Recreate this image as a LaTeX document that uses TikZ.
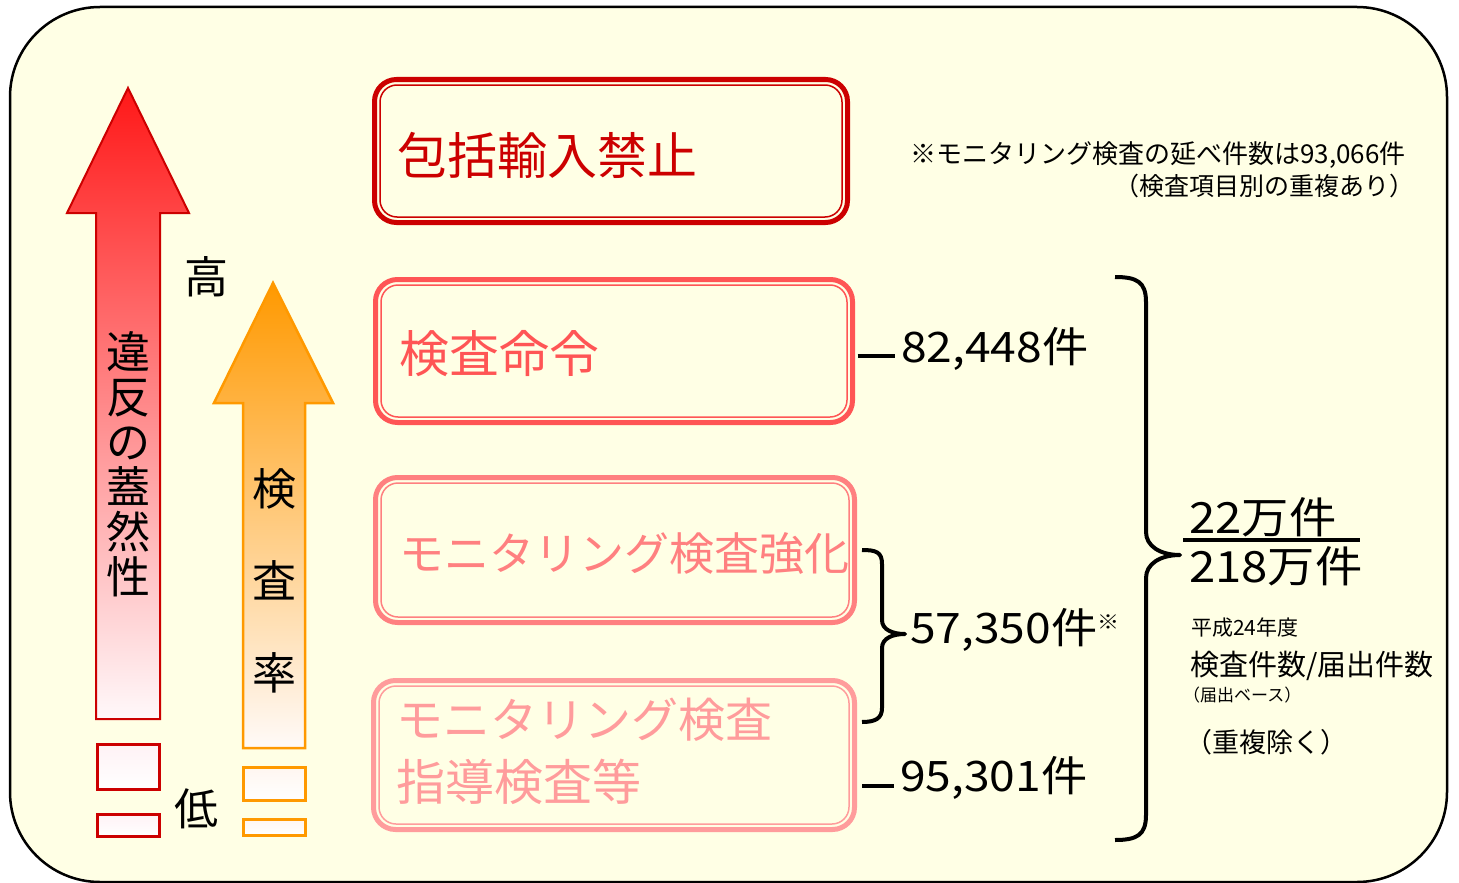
\documentclass[tikz,border=0pt]{standalone}
\usepackage{fontspec}
\setmainfont{Noto Sans CJK JP}
\newfontfamily\numfont[FakeStretch=1.1]{Noto Sans CJK JP}
\definecolor{bg}{RGB}{255,255,229}
\definecolor{cA}{RGB}{204,0,0}
\definecolor{cB}{RGB}{255,85,85}
\definecolor{cC}{RGB}{255,128,128}
\definecolor{cD}{RGB}{255,156,156}
\definecolor{redtop}{RGB}{255,24,24}
\definecolor{redbot}{RGB}{255,248,250}
\definecolor{orng}{RGB}{255,153,0}
\definecolor{orbot}{RGB}{255,250,248}
\definecolor{pinkw}{RGB}{255,242,245}
\definecolor{orw}{RGB}{255,246,240}
\tikzset{
  fs/.style={font=\fontsize{#1}{#1}\selectfont},
  nfs/.style={font=\numfont\fontsize{#1}{#1}\selectfont},
  lbl/.style={inner sep=0pt, anchor=west},
  numlbl/.style={inner sep=0pt, inner xsep=6pt, anchor=west},
  panel/.style={draw=#1, line width=5pt, rounded corners=22pt, inner sep=0pt, outer sep=0pt},
  innerline/.style={draw=#1, line width=1.5pt, rounded corners=17pt},
  conn/.style={line width=4pt, draw=black},
  bracestyle/.style={line width=4pt, draw=black, line join=round},
  redarrow/.style={top color=redtop, bottom color=redbot, draw=cA, line width=2pt},
  orarrow/.style={top color=orng, bottom color=orbot, draw=orng, line width=2.5pt},
  redsq/.style={top color=pinkw, bottom color=white, draw=cA, line width=3pt},
  orsq/.style={top color=orw, bottom color=white, draw=orng, line width=3pt},
}
\begin{document}
\begin{tikzpicture}[x=1pt,y=-1pt]
\useasboundingbox (0,0) rectangle (1459,883);
% background panel
\draw[fill=bg, line width=2.5pt, rounded corners=90pt] (10,7) rectangle (1447,882);

% left arrows
\shadedraw[redarrow] (128,88) -- (189,213) -- (160,213) -- (160,719) -- (96,719) -- (96,213) -- (67,213) -- cycle;
\shadedraw[redsq] (97,744) rectangle (159,789);
\shadedraw[redsq] (97,814) rectangle (159,836);
\shadedraw[orarrow] (273,283) -- (333,403) -- (305,403) -- (305,748) -- (243,748) -- (243,403) -- (214,403) -- cycle;
\shadedraw[orsq] (243,767) rectangle (305,800);
\shadedraw[orsq] (243,819) rectangle (305,835);

\node[inner sep=0pt, align=center, font=\fontsize{44}{45}\selectfont] (viol) at (128,464) {違\\反\\の\\蓋\\然\\性};
\node[inner sep=0pt, align=center, font=\fontsize{44}{92}\selectfont] (rate) at (274,581) {検\\査\\率};
\node[fs=44, inner sep=0pt] (hi) at (206,277) {高};
\node[fs=44, inner sep=0pt] (lo) at (196,809) {低};

% boxes
\node[panel=cA, minimum width=473pt, minimum height=143pt] (box1) at (611,151) {};
\draw[innerline=cA] ([shift={(5.5pt,-5.5pt)}]box1.north west) rectangle ([shift={(-5.5pt,5.5pt)}]box1.south east);
\node[panel=cB, minimum width=477pt, minimum height=143pt] (box2) at (614,351) {};
\draw[innerline=cB] ([shift={(5.5pt,-5.5pt)}]box2.north west) rectangle ([shift={(-5.5pt,5.5pt)}]box2.south east);
\node[panel=cC, minimum width=479pt, minimum height=145pt] (box3) at (615,550) {};
\draw[innerline=cC] ([shift={(5.5pt,-5.5pt)}]box3.north west) rectangle ([shift={(-5.5pt,5.5pt)}]box3.south east);
\node[panel=cD, minimum width=481pt, minimum height=149pt] (box4) at (614,755) {};
\draw[innerline=cD] ([shift={(5.5pt,-5.5pt)}]box4.north west) rectangle ([shift={(-5.5pt,5.5pt)}]box4.south east);

\node[lbl, fs=50, text=cA] (t1) at (397,155) {包括輸入禁止};
\node[lbl, fs=50, text=cB] (t2) at (399,354) {検査命令};
\node[lbl, fs=45, text=cC] (t3) at (399,554) {モニタリング検査強化};
\node[lbl, fs=47, text=cD] (t4a) at (396,720) {モニタリング検査};
\node[lbl, fs=49, text=cD] (t4b) at (396,782) {指導検査等};

% numbers
\node[numlbl, nfs=42] (n82) at (895,349) {82,448件};
\node[numlbl, nfs=42] (n57) at (904,630) {57,350件\raisebox{14pt}{\fontsize{20}{20}\selectfont ※}};
\node[numlbl, nfs=42] (n95) at (894,778) {95,301件};

\coordinate (c82) at ([xshift=5pt,yshift=-5pt]box2.east);
\draw[conn] (c82) -- (c82 -| n82.west);
\coordinate (c95) at ([xshift=7.5pt,yshift=-31pt]box4.east);
\draw[conn] (c95) -- (c95 -| n95.west);

% small brace
\coordinate (sbT) at ([xshift=7.5pt]box3.east);
\coordinate (sbB) at ([xshift=7.5pt,yshift=33pt]box4.east);
\draw[bracestyle] (sbT) .. controls +(14,0) and +(0,-12) .. ++(20,14)
  -- ++(0,56)
  .. controls +(0,10) and +(-12,0) .. ++(23,14)
  .. controls +(-12,0) and +(0,-10) .. ++(-23,14)
  -- ++(0,60)
  .. controls +(0,10) and +(14,0) .. (sbB);

% big brace
\coordinate (bbT) at (1115,277);
\coordinate (bbB) at (1115,840);
\draw[bracestyle] (bbT) .. controls +(22,0) and +(0,-20) .. ++(31,25)
  -- ++(0,230)
  .. controls +(0,14) and +(-20,0) .. ++(34,23)
  .. controls +(-20,0) and +(0,-14) .. ++(-34,23)
  -- ++(0,237)
  .. controls +(0,20) and +(22,0) .. (bbB);

% fraction
\node[lbl, nfs=43] (f1) at (1189,517) {22万件};
\node[lbl, nfs=43] (f2) at (1189,566) {218万件};
\coordinate (fl1) at (1183,540);
\coordinate (fl2) at (1360,540);
\draw[line width=4pt] (fl1) -- (fl2);

\node[lbl, fs=21] (yr) at (1191,628) {平成24年度};
\node[lbl, fs=29] (ratio) at (1190,666) {検査件数/届出件数};
\node[lbl, fs=17] (base) at (1183,695) {（届出ベース）};
\node[lbl, fs=27] (dup) at (1185,742) {（重複除く）};

% note
\node[lbl, fs=26] (note1) at (910,155) {※モニタリング検査の延べ件数は93,066件};
\node[inner sep=0pt, anchor=east, fs=25] (note2) at (1415,186) {（検査項目別の重複あり）};
\end{tikzpicture}
\end{document}
